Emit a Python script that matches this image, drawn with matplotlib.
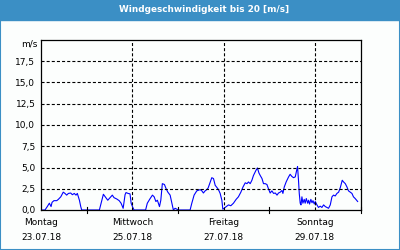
import matplotlib
matplotlib.use("Agg")
import matplotlib.pyplot as plt
from matplotlib.patches import Rectangle

title = "Windgeschwindigkeit bis 20 [m/s]"

# hours since Monday 23.07.18 00:00
hours = [0, 2.1, 3.3, 4.4, 5.3, 5.8, 6.8, 8.3, 9.1, 10.4, 11.7, 12.6, 13.5, 14.4,
         15.6, 16.5, 17.5, 18.4, 19.1, 20.2, 20.9, 21.4, 30.7, 31.6, 32.8, 33.8,
         35.1, 36.3, 37.5, 38.4, 39.8, 41.1, 42.1, 43.2, 44.2, 44.7, 45.8, 46.8,
         47.4, 48.1, 48.9, 55.0, 55.9, 57.4, 58.6, 59.5, 60.4, 61.2, 62.3, 63.0,
         63.8, 64.9, 65.8, 66.7, 67.9, 68.8, 69.6, 70.5, 71.4, 72.3, 78.4, 79.3,
         80.5, 81.9, 83.7, 84.6, 85.4, 86.3, 87.2, 87.9, 89.8, 90.7, 91.6, 92.5,
         93.3, 94.2, 95.1, 95.6, 96.3, 97.4, 98.6, 99.8, 101.2, 102.6, 103.8,
         105.1, 106.2, 107.4, 108.3, 109.1, 110.0, 110.9, 111.7, 113.0, 113.8,
         114.6, 115.3, 116.2, 117.0, 117.9, 118.8, 119.6, 120.5, 121.4, 122.3,
         123.2, 124.1, 124.9, 125.8, 126.7, 127.2, 127.9, 128.9, 130.2, 131.0,
         131.9, 132.8, 133.7, 134.6, 134.9, 135.4, 135.8, 136.3, 136.7, 137.2,
         137.7, 138.4, 138.9, 139.5, 140.2, 140.7, 141.2, 141.9, 142.5, 143.0,
         143.7, 144.2, 145.1, 145.9, 146.8, 147.7, 148.6, 149.5, 150.4, 151.2,
         152.1, 153.0, 153.8, 154.7, 155.6, 156.5, 157.4, 158.4, 159.1, 160.0,
         160.9, 161.7, 162.6, 163.5, 164.3, 165.2, 166.5]
wind = [0, 0, 0.4, 0.8, 0.4, 0.9, 1.1, 1.1, 1.25, 1.55, 2.1, 1.95, 1.75, 1.95,
        2.0, 1.8, 1.95, 1.75, 1.95, 1.15, 0.4, 0, 0, 0.8, 1.85, 1.55,
        1.15, 1.45, 1.75, 1.45, 1.3, 1.1, 0.8, 0.2, 1.8, 2.05, 1.95, 1.9,
        0.8, 0.4, 0, 0, 0.8, 1.35, 1.75, 1.55, 1.0, 1.15, 0.4, 1.15,
        3.1, 3.0, 2.5, 2.1, 1.75, 0.8, 0, 0.2, 0.1, 0, 0, 0.8,
        1.75, 2.25, 2.4, 2.25, 2.0, 2.25, 2.4, 2.6, 3.8, 3.7, 2.9, 2.65,
        2.4, 1.95, 1.15, 0.1, 0.2, 0.4, 0.6, 0.5, 0.8, 1.25, 1.55,
        2.1, 2.7, 3.2, 3.1, 3.3, 3.1, 3.5, 4.05, 4.65, 4.95,
        4.35, 4.05, 3.7, 3.1, 3.1, 3.0, 2.5, 2.0, 2.25, 1.95,
        2.0, 1.75, 2.0, 2.1, 2.3, 1.95, 2.7, 3.3, 3.9, 4.2,
        3.95, 3.8, 3.9, 4.85, 5.1, 3.5, 1.95, 0.8, 0.6, 1.55,
        0.8, 1.25, 0.8, 1.35, 0.8, 1.15, 0.7, 1.25, 0.85, 1.1,
        0.7, 1.0, 0.6, 0.3, 0.45, 0.3, 0.6, 0.4, 0.3, 0.2,
        0.6, 1.55, 1.75, 1.65, 1.95, 2.1, 2.65, 3.5, 3.3, 3.1,
        2.7, 2.25, 2.1, 1.95, 1.55, 1.35, 1.0]

day_ticks = [0, 48, 96, 144]
day_labels = ["Montag\n23.07.18", "Mittwoch\n25.07.18", "Freitag\n27.07.18", "Sonntag\n29.07.18"]
minor_ticks = [24, 72, 120, 168]
y_ticks = [0, 2.5, 5, 7.5, 10, 12.5, 15, 17.5]

plt.rcParams['lines.scale_dashes'] = False
blue = "#3b8fc5"

fig = plt.figure(figsize=(4, 2.5), dpi=100)
fig.patch.set_facecolor("#fcfefd")

# frame and title bar
fig.patches.append(Rectangle((0, 0), 1, 1, transform=fig.transFigure, fill=False,
                             edgecolor=blue, linewidth=1.5))
fig.patches.append(Rectangle((0, 1 - 20 / 250), 1, 20 / 250, transform=fig.transFigure,
                             facecolor=blue, edgecolor=blue))
fig.text(0.51, 1 - 10 / 250, title, color="white", fontsize=6.4, fontweight="bold",
         ha="center", va="center")

ax = fig.add_axes([41 / 400, 1 - 210 / 250, 319.5 / 400, 170 / 250])
ax.set_facecolor("#fcfefd")
ax.plot(hours, wind, color="#0000ff", linewidth=0.8)

ax.set_xlim(0, 168)
ax.set_ylim(0, 20)
ax.set_yticks(y_ticks)
ax.set_yticklabels([("%.1f" % v).replace(".", ",") for v in y_ticks], fontsize=6.5)
ax.tick_params(axis="y", length=0, pad=4)
ax.set_xticks(day_ticks)
ax.set_xticklabels(day_labels, fontsize=6.5, linespacing=1.75)
ax.set_xticks(minor_ticks, minor=True)
ax.tick_params(axis="x", which="both", length=0, pad=6)
for t in minor_ticks:
    ax.plot([t, t], [-0.3, 0.3], color="black", linewidth=0.8, clip_on=False)

for y in y_ticks[1:]:
    ax.axhline(y, color="black", linewidth=0.8, dashes=(2.2, 1.5))
for x in day_ticks[1:]:
    ax.axvline(x, color="black", linewidth=0.8, dashes=(2.2, 1.5))

for s in ax.spines.values():
    s.set_linewidth(0.9)

ax.text(-0.012, 1.0, "m/s", transform=ax.transAxes, fontsize=6.5, ha="right", va="top")

fig.savefig("out.png", dpi=100, facecolor=fig.get_facecolor())
